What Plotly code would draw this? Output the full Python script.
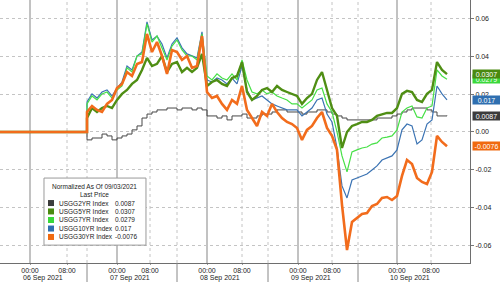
import plotly.graph_objects as go

# ---------------- data ----------------
# sample index along a trading-time axis (one sample per step)
holiday_x = [-17.4, 0.0]          # 06 Sep (US holiday): flat, normalized at 0
holiday_y = [0.0, 0.0]
n_samples = 73
sample_x = list(range(n_samples))

usgg2 = [-0.0042, -0.0032, -0.0032, -0.0011, -0.0021, -0.0042, -0.0032, -0.0021, -0.0011, 0.0011,
         0.0032, 0.0074, 0.0095, 0.0106, 0.0117, 0.0117, 0.0127, 0.0127, 0.0117, 0.0127,
         0.0127, 0.0117, 0.0127, 0.0117, 0.0085, 0.0085, 0.0074, 0.0085, 0.0064, 0.0085,
         0.0085, 0.0095, 0.0074, 0.0074, 0.0085, 0.0095, 0.0095, 0.0106, 0.0117, 0.0117,
         0.0106, 0.0106, 0.0106, 0.0095, 0.0106, 0.0106, 0.0117, 0.0117, 0.0106, 0.0095,
         0.0085, 0.0074, 0.0064, 0.0064, 0.0064, 0.0064, 0.0064, 0.0064, 0.0074, 0.0074,
         0.0074, 0.0085, 0.0095, 0.0106, 0.0117, 0.0127, 0.0127, 0.0127, 0.0117, 0.0106,
         0.0085, 0.0085, 0.0087]

usgg5 = [0.0074, 0.0127, 0.0106, 0.0127, 0.0138, 0.0127, 0.0170, 0.0202, 0.0223, 0.0255,
         0.0276, 0.0329, 0.0393, 0.0350, 0.0361, 0.0403, 0.0318, 0.0361, 0.0371, 0.0318,
         0.0340, 0.0318, 0.0340, 0.0414, 0.0244, 0.0265, 0.0276, 0.0255, 0.0244, 0.0286,
         0.0297, 0.0371, 0.0212, 0.0170, 0.0191, 0.0223, 0.0233, 0.0212, 0.0244, 0.0223,
         0.0212, 0.0202, 0.0191, 0.0149, 0.0180, 0.0202, 0.0276, 0.0318, 0.0223, 0.0127,
         0.0085, -0.0085, 0.0000, 0.0032, 0.0042, 0.0053, 0.0053, 0.0064, 0.0085, 0.0095,
         0.0101, 0.0101, 0.0127, 0.0202, 0.0218, 0.0212, 0.0170, 0.0159, 0.0202, 0.0223,
         0.0371, 0.0329, 0.0307]

usgg7 = [0.0149, 0.0191, 0.0170, 0.0202, 0.0212, 0.0180, 0.0223, 0.0244, 0.0340, 0.0318,
         0.0403, 0.0414, 0.0573, 0.0477, 0.0509, 0.0446, 0.0382, 0.0456, 0.0488, 0.0435,
         0.0403, 0.0403, 0.0382, 0.0520, 0.0297, 0.0276, 0.0308, 0.0286, 0.0276, 0.0308,
         0.0276, 0.0382, 0.0276, 0.0212, 0.0202, 0.0223, 0.0202, 0.0212, 0.0191, 0.0180,
         0.0170, 0.0149, 0.0149, 0.0127, 0.0149, 0.0170, 0.0223, 0.0233, 0.0149, 0.0106,
         0.0000, -0.0127, -0.0212, -0.0106, -0.0095, -0.0085, -0.0080, -0.0064, -0.0058, -0.0032,
         -0.0027, -0.0021, 0.0011, 0.0106, 0.0127, 0.0138, 0.0080, 0.0074, 0.0127, 0.0138,
         0.0329, 0.0297, 0.0279]

usgg10 = [0.0159, 0.0202, 0.0180, 0.0212, 0.0223, 0.0191, 0.0233, 0.0265, 0.0350, 0.0329,
          0.0403, 0.0424, 0.0584, 0.0488, 0.0509, 0.0467, 0.0393, 0.0467, 0.0499, 0.0446,
          0.0414, 0.0403, 0.0393, 0.0531, 0.0276, 0.0265, 0.0286, 0.0276, 0.0255, 0.0286,
          0.0255, 0.0350, 0.0223, 0.0170, 0.0180, 0.0191, 0.0170, 0.0149, 0.0138, 0.0127,
          0.0117, 0.0117, 0.0117, 0.0085, 0.0106, 0.0127, 0.0170, 0.0180, 0.0095, 0.0053,
          -0.0085, -0.0286, -0.0350, -0.0255, -0.0244, -0.0233, -0.0223, -0.0202, -0.0180, -0.0149,
          -0.0138, -0.0127, -0.0095, 0.0011, 0.0042, 0.0032, -0.0064, -0.0042, 0.0042, 0.0064,
          0.0244, 0.0202, 0.0170]

usgg30 = [0.0106, 0.0138, 0.0117, 0.0106, 0.0149, 0.0170, 0.0233, 0.0255, 0.0318, 0.0297,
          0.0361, 0.0371, 0.0520, 0.0424, 0.0477, 0.0403, 0.0308, 0.0435, 0.0424, 0.0382,
          0.0403, 0.0340, 0.0350, 0.0509, 0.0212, 0.0180, 0.0191, 0.0149, 0.0117, 0.0170,
          0.0149, 0.0244, 0.0117, 0.0074, 0.0032, 0.0106, 0.0085, 0.0149, 0.0106, 0.0074,
          0.0053, 0.0042, 0.0021, -0.0042, 0.0011, 0.0032, 0.0074, 0.0106, 0.0021, -0.0021,
          -0.0095, -0.0387, -0.0626, -0.0477, -0.0456, -0.0435, -0.0430, -0.0393, -0.0382, -0.0350,
          -0.0345, -0.0361, -0.0340, -0.0233, -0.0149, -0.0170, -0.0244, -0.0265, -0.0276, -0.0212,
          -0.0021, -0.0053, -0.0076]

names = ["USGG2YR Index", "USGG5YR Index", "USGG7YR Index", "USGG10YR Index", "USGG30YR Index"]
last_labels = ["0.0087", "0.0307", "0.0279", "0.017", "-0.0076"]
last_values = [0.0087, 0.0307, 0.0279, 0.017, -0.0076]

# x-axis ticks (positions on the trading-time index)
midnight_ticks = [-11.4, 6.0, 24.0, 42.2, 62.0]
morning_ticks = [-4.0, 12.6, 31.0, 49.0, 68.8]
session_breaks = [0.0, 18.0, 36.2, 54.2]
day_labels = ["06 Sep 2021", "07 Sep 2021", "08 Sep 2021", "09 Sep 2021", "10 Sep 2021"]

y_ticks = [-0.06, -0.04, -0.02, 0.0, 0.02, 0.04, 0.06]
y_ticktext = ["-0.06", "-0.04", "-0.02", "0.00", "0.02", "0.04", "0.06"]

# ---------------- styling ----------------
FONT = "Liberation Sans, Arial, sans-serif"
colors = {"USGG2YR Index": "#474747", "USGG5YR Index": "#4f8e14", "USGG7YR Index": "#46e046",
          "USGG10YR Index": "#3b73b3", "USGG30YR Index": "#f26c1c"}
tag_colors = {"USGG2YR Index": "#3c3c3c", "USGG5YR Index": "#4a8a10", "USGG7YR Index": "#3ad83a",
              "USGG10YR Index": "#2f6fb0", "USGG30YR Index": "#f06a10"}
widths = {"USGG2YR Index": 1.0, "USGG5YR Index": 2.4, "USGG7YR Index": 1.2,
          "USGG10YR Index": 1.2, "USGG30YR Index": 2.6}
data = {"USGG2YR Index": usgg2, "USGG5YR Index": usgg5, "USGG7YR Index": usgg7,
        "USGG10YR Index": usgg10, "USGG30YR Index": usgg30}

X_MIN, X_MAX = -17.4, 76.6
Y_MIN, Y_MAX = -0.0695, 0.0700

fig = go.Figure()
draw_order = ["USGG2YR Index", "USGG10YR Index", "USGG7YR Index", "USGG5YR Index", "USGG30YR Index"]
for nm in draw_order:
    fig.add_trace(go.Scatter(
        x=holiday_x + sample_x, y=holiday_y + data[nm], mode="lines", name=nm,
        line=dict(color=colors[nm], width=widths[nm],
                  shape="hv" if nm == "USGG2YR Index" else "linear"),
        hoverinfo="skip", showlegend=False))

shapes = []
for xv in midnight_ticks:
    shapes.append(dict(type="line", xref="x", yref="paper", x0=xv, x1=xv, y0=0, y1=1,
                       line=dict(color="#a8a8a8", width=1.4), layer="below"))
for xv in morning_ticks + session_breaks:
    shapes.append(dict(type="line", xref="x", yref="paper", x0=xv, x1=xv, y0=0, y1=1,
                       line=dict(color="#c4c4c4", width=1, dash="dot"), layer="below"))
for xv in session_breaks:
    shapes.append(dict(type="line", xref="x", yref="paper", x0=xv, x1=xv, y0=-0.075, y1=0,
                       line=dict(color="#888888", width=1)))

annotations = []
for xv, lab in zip(midnight_ticks, day_labels):
    annotations.append(dict(x=xv, y=-0.0555, xref="x", yref="paper", text=lab, showarrow=False,
                            xanchor="left", yanchor="middle", xshift=-9,
                            font=dict(family=FONT, size=7, color="#222")))

# value tags on the right axis
tag_order = ["USGG7YR Index", "USGG5YR Index", "USGG10YR Index", "USGG2YR Index", "USGG30YR Index"]
for nm in tag_order:
    i = names.index(nm)
    annotations.append(dict(x=1.004, y=last_values[i], xref="paper", yref="y",
                            text=last_labels[i], showarrow=False, xanchor="left", yanchor="middle",
                            bgcolor=tag_colors[nm], borderpad=0.5, width=26, align="center",
                            font=dict(family=FONT, size=7, color="white")))

# legend box (built manually to keep Bloomberg's compact look)
L_X0, L_X1, L_Y0, L_Y1 = 0.0936, 0.3106, 0.068, 0.323
shapes.append(dict(type="rect", xref="paper", yref="paper", x0=L_X0, x1=L_X1, y0=L_Y0, y1=L_Y1,
                   line=dict(color="#9a9a9a", width=1), fillcolor="white"))
annotations.append(dict(x=(L_X0 + L_X1) / 2, y=0.291, xref="paper", yref="paper",
                        text="Normalized As Of 09/03/2021", showarrow=False, xanchor="center",
                        yanchor="middle", font=dict(family=FONT, size=6.5, color="#222")))
annotations.append(dict(x=(L_X0 + L_X1) / 2, y=0.260, xref="paper", yref="paper",
                        text="Last Price", showarrow=False, xanchor="center",
                        yanchor="middle", font=dict(family=FONT, size=6.5, color="#222")))
row_y = [0.228, 0.196, 0.1635, 0.131, 0.099]
for k, nm in enumerate(names):
    ry = row_y[k]
    shapes.append(dict(type="rect", xref="paper", yref="paper", x0=0.1021, x1=0.1149,
                       y0=ry - 0.0114, y1=ry + 0.0114, line=dict(width=0),
                       fillcolor=tag_colors[nm]))
    annotations.append(dict(x=0.1213, y=ry, xref="paper", yref="paper", text=nm,
                            showarrow=False, xanchor="left", yanchor="middle",
                            font=dict(family=FONT, size=6.5, color="#222")))
    annotations.append(dict(x=0.2400, y=ry, xref="paper", yref="paper", text=last_labels[k],
                            showarrow=False, xanchor="left", yanchor="middle",
                            font=dict(family=FONT, size=6.5, color="#222")))

fig.update_layout(
    width=500, height=282, margin=dict(l=0, r=30, t=0, b=19),
    paper_bgcolor="white", plot_bgcolor="white", showlegend=False,
    font=dict(family=FONT, size=7, color="#222"),
    xaxis=dict(range=[X_MIN, X_MAX], tickvals=midnight_ticks + morning_ticks,
               ticktext=["00:00"] * len(midnight_ticks) + ["08:00"] * len(morning_ticks),
               showgrid=False, zeroline=False, showline=True, linecolor="#6e6e6e", linewidth=1,
               ticks="outside", ticklen=1, tickcolor="#999", tickfont=dict(size=7, color="#222")),
    yaxis=dict(range=[Y_MIN, Y_MAX], side="right", tickvals=y_ticks, ticktext=y_ticktext,
               showgrid=True, gridcolor="#c4c4c4", griddash="dot", gridwidth=1, zeroline=False,
               showline=True, linecolor="#6e6e6e", linewidth=1, ticks="outside", ticklen=3,
               tickcolor="#777", tickfont=dict(size=7, color="#222")),
    shapes=shapes, annotations=annotations,
)

fig.write_html("out.html")
